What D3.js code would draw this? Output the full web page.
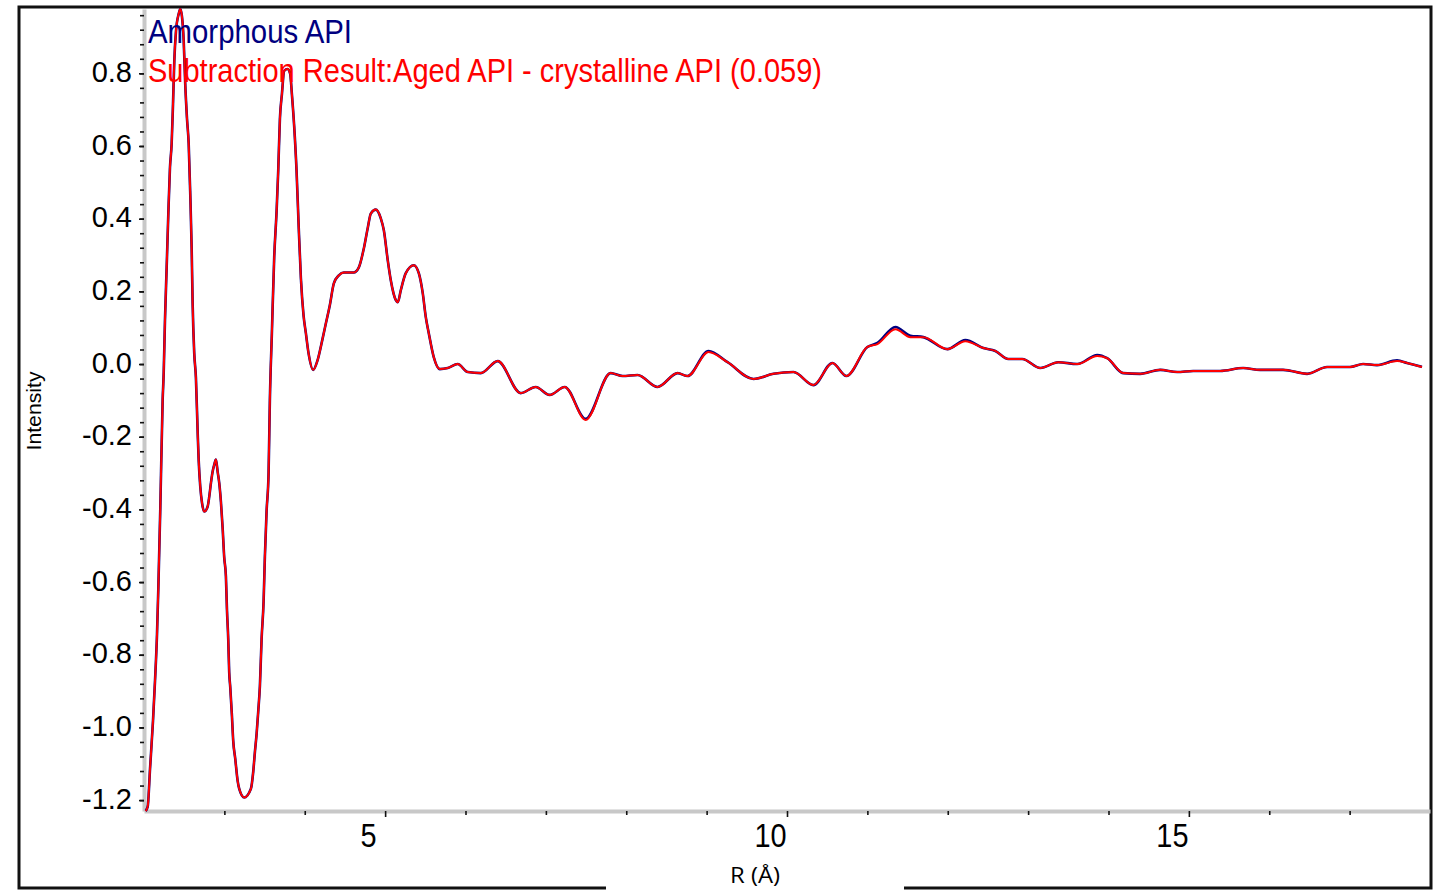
<!DOCTYPE html>
<html>
<head>
<meta charset="utf-8">
<script src="https://cdn.jsdelivr.net/npm/d3@7"></script>
<style>
  body { margin: 0; background: #fff; }
  svg { display: block; }
</style>
</head>
<body>
<svg id="chart" width="1438" height="891"></svg>
<script>
// Radial distance R (Å)
const rValues = [
  2.02, 2.046, 2.075, 2.112, 2.137, 2.162, 2.178, 2.203, 2.232, 2.245,
  2.261, 2.282, 2.302, 2.323, 2.344, 2.361, 2.377, 2.398, 2.431, 2.451,
  2.472, 2.494, 2.513, 2.535, 2.556, 2.576, 2.593, 2.605, 2.625, 2.646,
  2.668, 2.680, 2.700, 2.721, 2.750, 2.792, 2.812, 2.833, 2.854, 2.874,
  2.895, 2.916, 2.936, 2.957, 2.978, 2.998, 3.019, 3.032, 3.048, 3.060,
  3.073, 3.094, 3.110, 3.135, 3.165, 3.185, 3.247, 3.330, 3.359, 3.380,
  3.401, 3.421, 3.442, 3.463, 3.488, 3.504, 3.525, 3.550, 3.566, 3.591,
  3.620, 3.650, 3.670, 3.691, 3.716, 3.744, 3.786, 3.819, 3.840, 3.868,
  3.898, 3.923, 3.952, 3.985, 4.014, 4.047, 4.105, 4.159, 4.222, 4.263,
  4.312, 4.362, 4.424, 4.486, 4.611, 4.673, 4.735, 4.785, 4.822, 4.884,
  4.946, 4.984, 5.033, 5.071, 5.133, 5.158, 5.195, 5.257, 5.357, 5.419,
  5.468, 5.506, 5.543, 5.605, 5.680, 5.779, 5.903, 6.028, 6.189, 6.401,
  6.687, 6.873, 7.047, 7.234, 7.495, 7.806, 7.955, 8.141, 8.390, 8.639,
  8.763, 9.024, 9.260, 9.583, 9.832, 10.081, 10.329, 10.565, 10.739, 11.000,
  11.125, 11.349, 11.535, 11.697, 11.995, 12.219, 12.443, 12.592, 12.753, 12.927,
  13.151, 13.375, 13.611, 13.860, 13.984, 14.183, 14.394, 14.643, 14.854, 15.053,
  15.389, 15.675, 15.886, 16.172, 16.471, 16.719, 17.005, 17.167, 17.341, 17.590,
  17.714, 17.900
];

// Amorphous API PDF intensity
const amorphous = [
  -1.23, -1.218, -1.114, -0.982, -0.872, -0.743, -0.620, -0.395, -0.099, -0.025,
  0.121, 0.266, 0.409, 0.540, 0.606, 0.716, 0.834, 0.916, 0.963, 0.977,
  0.957, 0.889, 0.771, 0.675, 0.606, 0.464, 0.318, 0.167, 0.030, -0.038,
  -0.190, -0.263, -0.337, -0.381, -0.406, -0.392, -0.365, -0.327, -0.296, -0.277,
  -0.263, -0.296, -0.327, -0.379, -0.450, -0.532, -0.584, -0.675, -0.757, -0.848,
  -0.889, -0.968, -1.037, -1.086, -1.147, -1.169, -1.193, -1.169, -1.122, -1.067,
  -1.018, -0.957, -0.886, -0.757, -0.653, -0.530, -0.406, -0.300, -0.100, 0.085,
  0.294, 0.422, 0.532, 0.675, 0.743, 0.807, 0.812, 0.798, 0.743, 0.656,
  0.532, 0.387, 0.236, 0.134, 0.085, 0.030, -0.016, 0.010, 0.070, 0.112,
  0.162, 0.222, 0.244, 0.252, 0.252, 0.266, 0.318, 0.376, 0.414, 0.425,
  0.401, 0.368, 0.285, 0.230, 0.176, 0.170, 0.203, 0.250, 0.272, 0.250,
  0.195, 0.129, 0.085, 0.019, -0.014, -0.011, 0.000, -0.022, -0.025, 0.008,
  -0.080, -0.063, -0.085, -0.063, -0.151, -0.025, -0.033, -0.030, -0.063, -0.025,
  -0.033, 0.036, 0.005, -0.041, -0.027, -0.022, -0.058, 0.003, -0.033, 0.047,
  0.058, 0.102, 0.078, 0.074, 0.041, 0.066, 0.044, 0.036, 0.014, 0.014,
  -0.011, 0.005, 0.000, 0.025, 0.016, -0.025, -0.027, -0.016, -0.022, -0.019,
  -0.019, -0.011, -0.016, -0.016, -0.027, -0.008, -0.008, 0.000, -0.003, 0.010,
  0.003, -0.008
];

// Subtraction result: aged API minus scaled crystalline API
const subtraction = [
  -1.23, -1.218, -1.114, -0.982, -0.872, -0.743, -0.620, -0.395, -0.099, -0.025,
  0.121, 0.266, 0.409, 0.540, 0.606, 0.716, 0.834, 0.916, 0.963, 0.977,
  0.957, 0.889, 0.771, 0.675, 0.606, 0.464, 0.318, 0.167, 0.030, -0.038,
  -0.190, -0.263, -0.337, -0.381, -0.406, -0.392, -0.365, -0.327, -0.296, -0.277,
  -0.263, -0.296, -0.327, -0.379, -0.450, -0.532, -0.584, -0.675, -0.757, -0.848,
  -0.889, -0.968, -1.037, -1.086, -1.147, -1.169, -1.193, -1.169, -1.122, -1.067,
  -1.018, -0.957, -0.886, -0.757, -0.653, -0.530, -0.406, -0.300, -0.100, 0.085,
  0.294, 0.422, 0.532, 0.675, 0.743, 0.807, 0.812, 0.798, 0.743, 0.656,
  0.532, 0.387, 0.236, 0.134, 0.085, 0.030, -0.016, 0.010, 0.070, 0.112,
  0.162, 0.222, 0.244, 0.252, 0.252, 0.266, 0.318, 0.376, 0.414, 0.425,
  0.401, 0.368, 0.285, 0.230, 0.176, 0.170, 0.203, 0.250, 0.272, 0.250,
  0.195, 0.129, 0.085, 0.019, -0.014, -0.011, 0.000, -0.022, -0.025, 0.008,
  -0.080, -0.063, -0.085, -0.063, -0.154, -0.025, -0.033, -0.030, -0.063, -0.025,
  -0.033, 0.033, 0.005, -0.041, -0.027, -0.022, -0.058, 0.003, -0.033, 0.047,
  0.055, 0.096, 0.074, 0.074, 0.041, 0.063, 0.044, 0.036, 0.014, 0.014,
  -0.011, 0.005, 0.000, 0.022, 0.016, -0.025, -0.027, -0.016, -0.022, -0.019,
  -0.019, -0.011, -0.016, -0.016, -0.027, -0.008, -0.008, 0.000, -0.003, 0.008,
  0.003, -0.008
];

const xDomain = [2, 18];
const yDomain = [-1.23, 0.977];
const xMajorTicks = [5, 10, 15];
const xMinorTicks = [3, 4, 6, 7, 8, 9, 11, 12, 13, 14, 16, 17];
const yMajorTicks = [-1.2, -1.0, -0.8, -0.6, -0.4, -0.2, 0.0, 0.2, 0.4, 0.6, 0.8];
const yMinorTicks = d3.range(-30, 25).map(i => i * 0.04);

const seriesNames = ["Amorphous API", "Subtraction Result:Aged API - crystalline API (0.059)"];
const seriesColors = ["#000080", "#ff0000"];
const xTitle = "R (Å)";
const yTitle = "Intensity";

const svg = d3.select("#chart");
const font = "'Liberation Sans', Arial, sans-serif";

const x = d3.scaleLinear().domain(xDomain).range([144, 1430]);
const y = d3.scaleLinear().domain(yDomain).range([811, 9]);

// outer frame, open at the bottom where the x title sits
svg.append("path")
  .attr("d", "M606,888 H19 V7 H1431 V888 H904")
  .attr("fill", "none")
  .attr("stroke", "#111")
  .attr("stroke-width", 3);

// y axis
const yAxisG = svg.append("g").attr("transform", "translate(144,0)");
yAxisG.call(d3.axisLeft(y).tickValues(yMajorTicks).tickSize(5).tickSizeOuter(0)
  .tickPadding(7).tickFormat(d => d.toFixed(1)));
yAxisG.select(".domain").attr("stroke", "#c8c8c8").attr("stroke-width", 4);
yAxisG.selectAll(".tick line").attr("stroke", "#111").attr("stroke-width", 1.6);
yAxisG.selectAll(".tick text")
  .attr("font-family", font).attr("font-size", 29).attr("fill", "#000")
  .attr("dy", "0.28em");

const yMinorG = svg.append("g").attr("transform", "translate(144,0)");
yMinorG.call(d3.axisLeft(y).tickValues(yMinorTicks).tickSize(4).tickSizeOuter(0).tickFormat(""));
yMinorG.select(".domain").remove();
yMinorG.selectAll(".tick line").attr("stroke", "#111").attr("stroke-width", 1.6);

// x axis
const xAxisG = svg.append("g").attr("transform", "translate(0,811)");
xAxisG.call(d3.axisBottom(x).tickValues(xMajorTicks).tickSize(6).tickSizeOuter(0)
  .tickFormat(d3.format("d")));
xAxisG.select(".domain").attr("stroke", "#c8c8c8").attr("stroke-width", 4);
xAxisG.selectAll(".tick line").attr("stroke", "#111").attr("stroke-width", 1.6);
xAxisG.selectAll(".tick text")
  .attr("font-family", font).attr("font-size", 34).attr("fill", "#000")
  .attr("text-anchor", "middle")
  .attr("x", -20).attr("y", 36).attr("dy", null)
  .attr("transform", "scale(0.85,1)");

const xMinorG = svg.append("g").attr("transform", "translate(0,811)");
xMinorG.call(d3.axisBottom(x).tickValues(xMinorTicks).tickSize(4).tickSizeOuter(0).tickFormat(""));
xMinorG.select(".domain").remove();
xMinorG.selectAll(".tick line").attr("stroke", "#111").attr("stroke-width", 1.6);

// axis titles
svg.append("text")
  .attr("transform", "translate(41,411) rotate(-90)")
  .attr("text-anchor", "middle")
  .attr("font-family", font).attr("font-size", 20)
  .attr("textLength", 79).attr("lengthAdjust", "spacingAndGlyphs")
  .text(yTitle);

svg.append("text")
  .attr("x", 755).attr("y", 883)
  .attr("text-anchor", "middle")
  .attr("font-family", "'Open Sans', sans-serif").attr("font-size", 22)
  .attr("textLength", 50).attr("lengthAdjust", "spacingAndGlyphs")
  .text(xTitle);

// curves
const line = d3.line()
  .x(d => x(d[0]))
  .y(d => y(d[1]))
  .curve(d3.curveMonotoneX);

const series = [amorphous, subtraction];
series.forEach((vals, i) => {
  svg.append("path")
    .datum(rValues.map((r, k) => [r, vals[k]]))
    .attr("d", line)
    .attr("fill", "none")
    .attr("stroke", seriesColors[i])
    .attr("stroke-width", i === 0 ? 2.6 : 2)
    .attr("stroke-linejoin", "round");
});

// legend
const legendBaselines = [43, 82];
const legendWidths = [204, 674];
seriesNames.forEach((name, i) => {
  svg.append("text")
    .attr("x", 148).attr("y", legendBaselines[i])
    .attr("font-family", font).attr("font-size", 34)
    .attr("fill", seriesColors[i])
    .attr("textLength", legendWidths[i]).attr("lengthAdjust", "spacingAndGlyphs")
    .text(name);
});
</script>
</body>
</html>
